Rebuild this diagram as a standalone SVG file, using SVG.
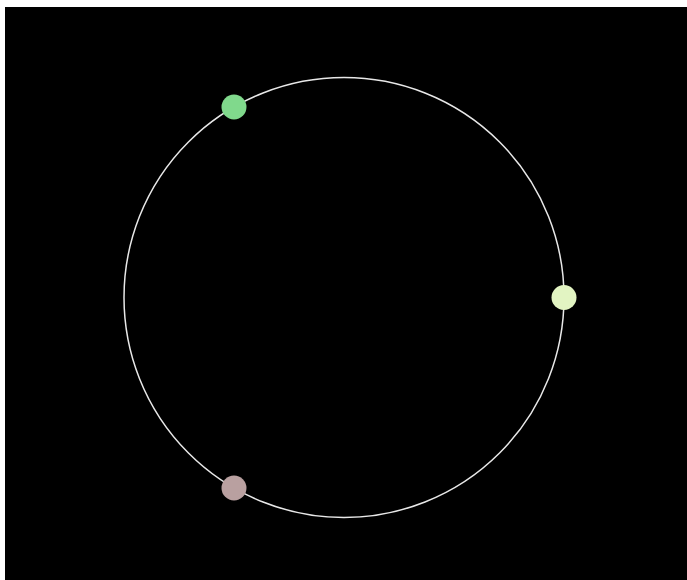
<svg xmlns="http://www.w3.org/2000/svg" width="687" height="580" viewBox="0 0 687 580">
<style>
.ring{fill:none;stroke:#e8e8e8;stroke-width:1.5}
.dot{stroke:none}
</style>
<rect x="0" y="0" width="687" height="580" fill="#ffffff"/>
<rect x="5" y="7" width="682" height="573" fill="#000000"/>
<g id="connectors">
<circle class="ring" cx="344" cy="297.5" r="220"/>
</g>
<g id="node-green"><circle class="dot" cx="234" cy="107" r="12.5" fill="#80d98c"/></g>
<g id="node-yellow"><circle class="dot" cx="564" cy="297.5" r="12.5" fill="#e2f4c2"/></g>
<g id="node-mauve"><circle class="dot" cx="234" cy="488" r="12.5" fill="#b9a0a0"/></g>
</svg>
